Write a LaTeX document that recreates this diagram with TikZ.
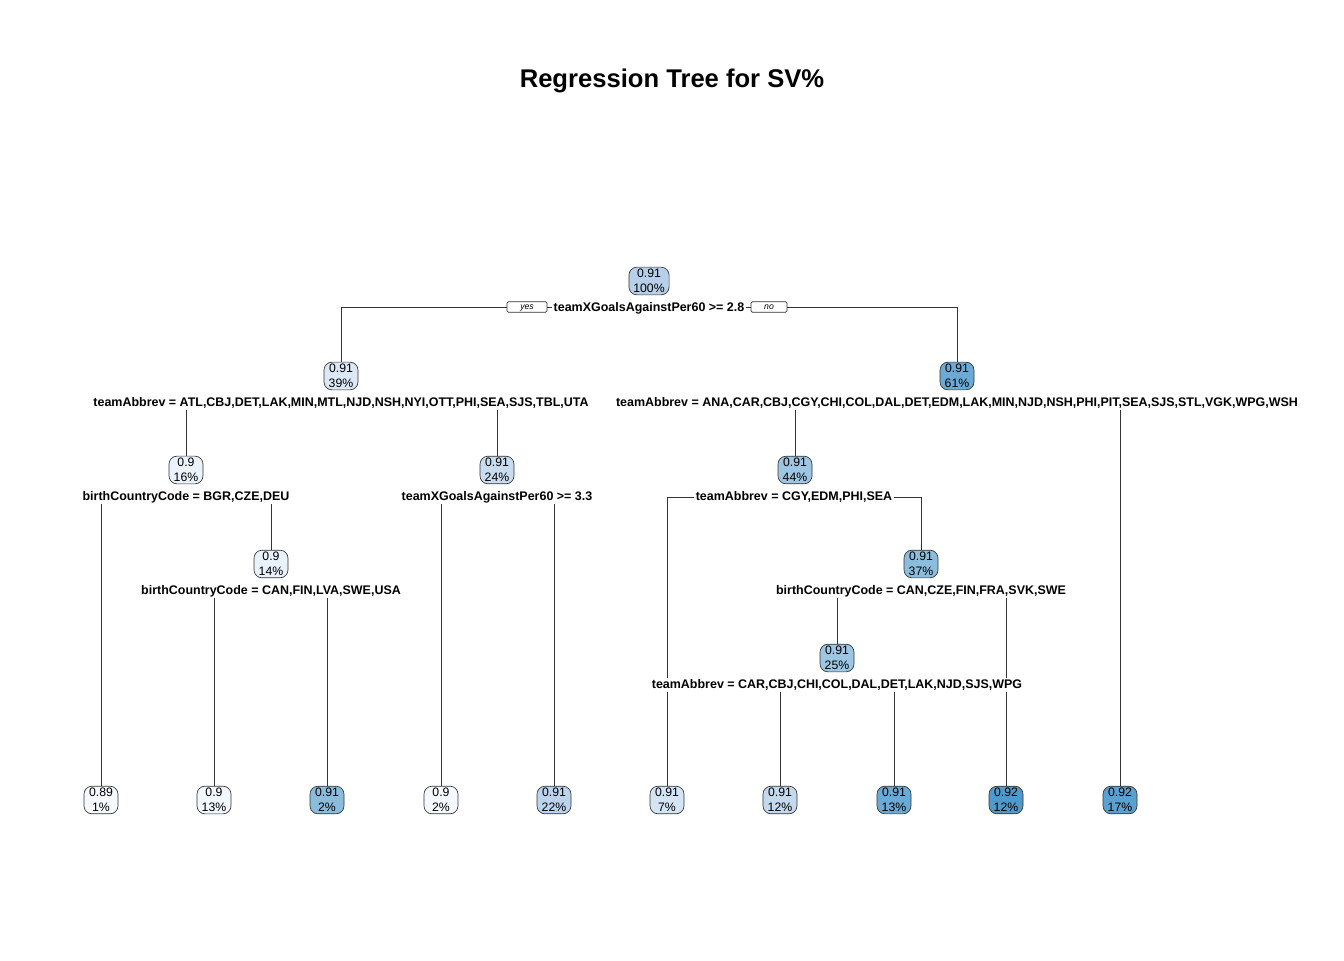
\documentclass[tikz,border=0pt]{standalone}
\usepackage{fontspec}
\setmainfont{Liberation Sans}
\usetikzlibrary{backgrounds}

\definecolor{edgegray}{HTML}{333333}
\definecolor{bA}{HTML}{B8CFE9}
\definecolor{bB}{HTML}{DCE8F5}
\definecolor{bC}{HTML}{EAF2FB}
\definecolor{bD}{HTML}{E9F1FA}
\definecolor{bE}{HTML}{F6FAFE}
\definecolor{bF}{HTML}{F1F7FD}
\definecolor{bG}{HTML}{8ABDDC}
\definecolor{bH}{HTML}{C8DBEF}
\definecolor{bI}{HTML}{F5F9FE}
\definecolor{bJ}{HTML}{BBD3EC}
\definecolor{bK}{HTML}{6BAAD5}
\definecolor{bL}{HTML}{9EC6E2}
\definecolor{bM}{HTML}{D3E4F4}
\definecolor{bN}{HTML}{8DBDDD}
\definecolor{bO}{HTML}{9CC6E2}
\definecolor{bP}{HTML}{C4D9EE}
\definecolor{bQ}{HTML}{6AAAD5}
\definecolor{bR}{HTML}{4F9ACB}
\definecolor{bS}{HTML}{5AA1CF}

\begin{document}
\begin{tikzpicture}[x=0.75pt,y=-0.75pt,
    tnode/.style={draw=edgegray, line width=0.5pt, rounded corners=6pt, align=center,
        font=\fontsize{9.2}{11.25}\selectfont, inner xsep=3.3pt, inner ysep=1.5pt, minimum width=25.5pt},
    split/.style={font=\bfseries\fontsize{9.35}{10}\selectfont, fill=white, inner sep=1pt},
    yesno/.style={draw=edgegray, line width=0.5pt, rounded corners=1pt, font=\itshape\fontsize{6.5}{7}\selectfont,
        inner sep=1pt, text height=4.6pt, text depth=1.2pt},
    edge/.style={draw=edgegray, line width=0.5pt}]
    \useasboundingbox (0,0) rectangle (1344,960);
    \node[font=\bfseries\fontsize{19.2}{22}\selectfont] (title) at (672,81) {Regression Tree for SV\%};
    % root
    \node[tnode, fill=bA] (r) at (649,281) {0.91\\100\%};
    \node[split] (sr) at (649,308) {teamXGoalsAgainstPer60 >= 2.8};
    \node[yesno, minimum width=30pt] (yes) at (527,307) {yes};
    \node[yesno, minimum width=27pt] (no) at (769,307) {no};
    % left branch
    \node[tnode, fill=bB] (rl) at (341,376) {0.91\\39\%};
    \node[split] (srl) at (341,403) {teamAbbrev = ATL,CBJ,DET,LAK,MIN,MTL,NJD,NSH,NYI,OTT,PHI,SEA,SJS,TBL,UTA};
    \node[tnode, fill=bC] (rll) at (186,470) {0.9\\16\%};
    \node[split] (srll) at (186,497) {birthCountryCode = BGR,CZE,DEU};
    \node[tnode, fill=bD] (rllr) at (271,564) {0.9\\14\%};
    \node[split] (srllr) at (271,591) {birthCountryCode = CAN,FIN,LVA,SWE,USA};
    \node[tnode, fill=bH] (rlr) at (497,470) {0.91\\24\%};
    \node[split] (srlr) at (497,497) {teamXGoalsAgainstPer60 >= 3.3};
    % right branch
    \node[tnode, fill=bK] (rr) at (957,376) {0.91\\61\%};
    \node[split] (srr) at (957,403) {teamAbbrev = ANA,CAR,CBJ,CGY,CHI,COL,DAL,DET,EDM,LAK,MIN,NJD,NSH,PHI,PIT,SEA,SJS,STL,VGK,WPG,WSH};
    \node[tnode, fill=bL] (rrl) at (795,470) {0.91\\44\%};
    \node[split] (srrl) at (794,497) {teamAbbrev = CGY,EDM,PHI,SEA};
    \node[tnode, fill=bN] (rrlr) at (921,564) {0.91\\37\%};
    \node[split] (srrlr) at (921,591) {birthCountryCode = CAN,CZE,FIN,FRA,SVK,SWE};
    \node[tnode, fill=bO] (rrlrl) at (837,658) {0.91\\25\%};
    \node[split] (srrlrl) at (837,685) {teamAbbrev = CAR,CBJ,CHI,COL,DAL,DET,LAK,NJD,SJS,WPG};
    % leaves
    \node[tnode, fill=bE] (rlll) at (101,800) {0.89\\1\%};
    \node[tnode, fill=bF] (rllrl) at (214,800) {0.9\\13\%};
    \node[tnode, fill=bG] (rllrr) at (327,800) {0.91\\2\%};
    \node[tnode, fill=bI] (rlrl) at (441,800) {0.9\\2\%};
    \node[tnode, fill=bJ] (rlrr) at (554,800) {0.91\\22\%};
    \node[tnode, fill=bM] (rrll) at (667,800) {0.91\\7\%};
    \node[tnode, fill=bP] (rrlrll) at (780,800) {0.91\\12\%};
    \node[tnode, fill=bQ] (rrlrlr) at (894,800) {0.91\\13\%};
    \node[tnode, fill=bR] (rrlrr) at (1006,800) {0.92\\12\%};
    \node[tnode, fill=bS] (rrr) at (1120,800) {0.92\\17\%};
    % edges
    \begin{scope}[on background layer]
    \draw[edge] (yes.west) -| (rl.north);
    \draw[edge] (yes.east) -- (yes.east -| sr.west);
    \draw[edge] (no.west -| sr.east) -- (no.west);
    \draw[edge] (no.east) -| (rr.north);
    \draw[edge] (srl.south -| rll.north) -- (rll.north);
    \draw[edge] (srl.south -| rlr.north) -- (rlr.north);
    \draw[edge] (srll.south -| rlll.north) -- (rlll.north);
    \draw[edge] (srll.south -| rllr.north) -- (rllr.north);
    \draw[edge] (srllr.south -| rllrl.north) -- (rllrl.north);
    \draw[edge] (srllr.south -| rllrr.north) -- (rllrr.north);
    \draw[edge] (srlr.south -| rlrl.north) -- (rlrl.north);
    \draw[edge] (srlr.south -| rlrr.north) -- (rlrr.north);
    \draw[edge] (srr.south -| rrl.north) -- (rrl.north);
    \draw[edge] (srr.south -| rrr.north) -- (rrr.north);
    \draw[edge] (srrl.west) -| (rrll.north);
    \draw[edge] (srrl.east) -| (rrlr.north);
    \draw[edge] (srrlr.south -| rrlrl.north) -- (rrlrl.north);
    \draw[edge] (srrlr.south -| rrlrr.north) -- (rrlrr.north);
    \draw[edge] (srrlrl.south -| rrlrll.north) -- (rrlrll.north);
    \draw[edge] (srrlrl.south -| rrlrlr.north) -- (rrlrlr.north);
    \end{scope}
\end{tikzpicture}
\end{document}
